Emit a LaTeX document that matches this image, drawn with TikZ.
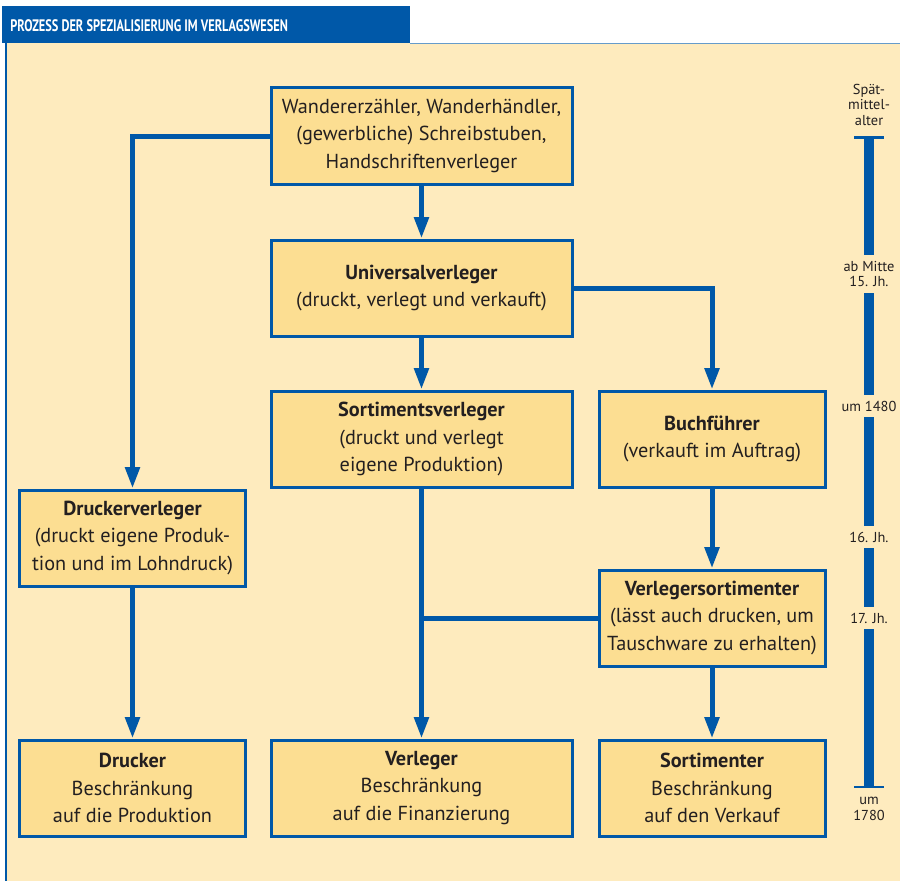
\documentclass[tikz,border=0pt]{standalone}
\usepackage{fontspec}
\setmainfont{PT Sans}
\newfontfamily\headfont[FakeStretch=0.74]{PT Sans}
\usetikzlibrary{positioning, calc, arrows.meta}

\definecolor{verlagblau}{HTML}{0058A8}
\definecolor{seitegelb}{HTML}{FEEBBE}
\definecolor{kastengelb}{HTML}{FCDE92}
\definecolor{textgrau}{HTML}{231F20}

\tikzset{
    kasten/.style={draw=verlagblau, fill=kastengelb, line width=2.25pt,
        minimum height=72pt, align=center, text=textgrau,
        font=\fontsize{15.2}{20.6}\selectfont},
    breit/.style={kasten, minimum width=225.75pt},
    schmal/.style={kasten, minimum width=169.5pt},
    fluss/.style={draw=verlagblau, line width=3.75pt,
        -{Triangle[length=16pt, width=10.5pt]}},
    linie/.style={draw=verlagblau, line width=3.75pt},
    zeitmarke/.style={fill=seitegelb, align=center, text=textgrau,
        inner xsep=1pt, inner ysep=4.5pt,
        font=\fontsize{10.8}{11.8}\selectfont}
}

\begin{document}
\begin{tikzpicture}[x=0.75pt, y=-0.75pt]
    \useasboundingbox (0,0) rectangle (900,881);

    % Seite und Titelleiste
    \fill[white] (0,0) rectangle (900,881);
    \fill[seitegelb] (5,43) rectangle (900,881);
    \draw[verlagblau, line width=1.5pt] (6,43) -- (6,881);
    \draw[verlagblau!60, line width=0.75pt] (410,43.5) -- (900,43.5);
    \fill[verlagblau] (2,6) rectangle (410,43);
    \node[anchor=west, text=white, inner sep=0pt,
        font=\headfont\bfseries\fontsize{12.5}{14}\selectfont] (titel) at (10,25.5)
        {PROZESS DER SPEZIALISIERUNG IM VERLAGSWESEN};

    % Kaesten
    \node[breit] (vorlaeufer) at (421.5,136)
        {Wandererzähler, Wanderhändler,\\(gewerbliche) Schreibstuben,\\Handschriftenverleger};
    \node[breit] (universal) at (421.5,288)
        {\textbf{Universalverleger}\\(druckt, verlegt und verkauft)};
    \node[breit] (sortverleger) at (421.5,439)
        {\textbf{Sortimentsverleger}\\(druckt und verlegt\\eigene Produktion)};
    \node[schmal] (buchfuehrer) at (712,439)
        {\textbf{Buchführer}\\(verkauft im Auftrag)};
    \node[schmal] (druckverleger) at (132.5,538)
        {\textbf{Druckerverleger}\\(druckt eigene Produk-\\tion und im Lohndruck)};
    \node[schmal] (verlsortimenter) at (712,618)
        {\textbf{Verlegersortimenter}\\(lässt auch drucken, um\\Tauschware zu erhalten)};
    \node[schmal] (drucker) at (132.5,788)
        {\textbf{Drucker}\\Beschränkung\\auf die Produktion};
    \node[breit] (verleger) at (421.5,788)
        {\textbf{Verleger}\\Beschränkung\\auf die Finanzierung};
    \node[schmal] (sortimenter) at (712,788)
        {\textbf{Sortimenter}\\Beschränkung\\auf den Verkauf};

    % Verbindungen
    \draw[fluss] (vorlaeufer.west) -| (druckverleger.north);
    \draw[fluss] (vorlaeufer) -- (universal);
    \draw[fluss] (universal.east) -| (buchfuehrer.north);
    \draw[fluss] (universal) -- (sortverleger);
    \draw[fluss] (sortverleger) -- (verleger);
    \draw[linie] (verlsortimenter.west) -- (verlsortimenter.west -| verleger.north);
    \draw[fluss] (buchfuehrer) -- (verlsortimenter);
    \draw[fluss] (verlsortimenter) -- (sortimenter);
    \draw[fluss] (druckverleger) -- (drucker);

    % Zeitleiste
    \coordinate (zoben) at (869,137);
    \coordinate (zunten) at (869,787);
    \draw[verlagblau, line width=7.5pt] (zoben) -- (zunten);
    \draw[verlagblau, line width=2.25pt] ($(zoben)+(-15,0)$) -- ($(zoben)+(15,0)$);
    \draw[verlagblau, line width=1.8pt] ($(zunten)+(-15,0)$) -- ($(zunten)+(15,0)$);
    \node[zeitmarke, fill=none, anchor=south] (spaet) at ($(zoben)+(0,-5)$) {Spät-\\mittel-\\alter};
    \node[zeitmarke] (mitte15) at (869,274) {ab Mitte\\15. Jh.};
    \node[zeitmarke] (um1480) at (869,406) {um 1480};
    \node[zeitmarke] (jh16) at (869,537) {16. Jh.};
    \node[zeitmarke] (jh17) at (869,618) {17. Jh.};
    \node[zeitmarke, fill=none, anchor=north] (um1780) at ($(zunten)+(0,4)$) {um\\1780};
\end{tikzpicture}
\end{document}
